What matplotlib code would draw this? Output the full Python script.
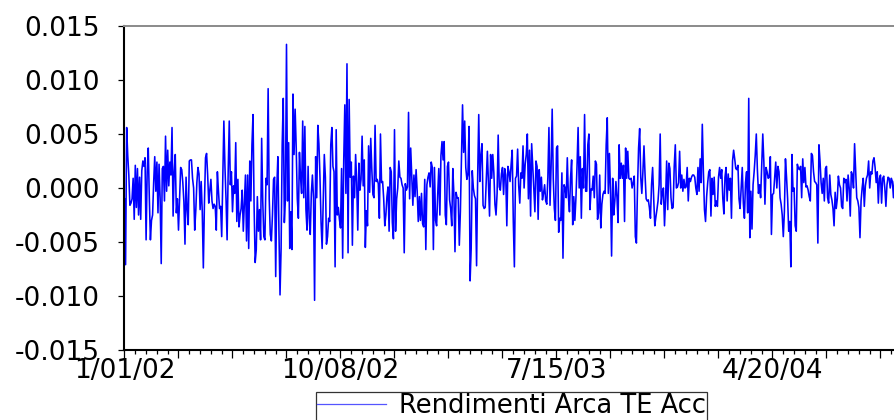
import matplotlib
matplotlib.use("Agg")
import matplotlib.pyplot as plt
from matplotlib.ticker import FixedLocator, MultipleLocator, FixedFormatter

plt.rcParams['font.family'] = ['DejaVu Sans']

series_name = "Rendimenti Arca TE Acc"

seg1 = [-0.0010, -0.0071, 0.0056, 0.0030, 0.0012, -0.0016, -0.0014, -0.0010, 0.0009, -0.0029,
        0.0021, -0.0018, 0.0018, -0.0025, 0.0010, -0.0029, 0.0016, 0.0025, 0.0020, 0.0028,
        -0.0048, 0.0015, 0.0037, -0.0010, -0.0048, -0.0030, -0.0025, 0.0005, 0.0029, -0.0003,
        0.0024, -0.0023, 0.0022, -0.0010, -0.0070, 0.0018, 0.0020, -0.0012, 0.0048, -0.0003,
        0.0035, 0.0002, 0.0024, 0.0012, 0.0056, -0.0026, 0.0015, 0.0031, -0.0023, -0.0010,
        -0.0039, -0.0011, 0.0019, 0.0017, 0.0005, -0.0013, -0.0052, 0.0010, -0.0020, -0.0034,
        0.0025, 0.0026]
seg2 = [0.0026, 0.0009, 0.0000, -0.0039, -0.0021, 0.0005, 0.0019, 0.0013, -0.0020, 0.0006,
        -0.0022, -0.0074, -0.0015, 0.0028, 0.0032, 0.0012, -0.0014, -0.0002, 0.0008, -0.0012,
        -0.0019, -0.0015, -0.0017, -0.0039, 0.0015, -0.0003, -0.0019, -0.0017, -0.0045, 0.0010,
        0.0062, 0.0020, -0.0010, -0.0048, 0.0015, 0.0062, 0.0003, 0.0015, -0.0022, 0.0002,
        -0.0005, 0.0042, -0.0031, 0.0008, -0.0036, -0.0025, -0.0019, -0.0002, -0.0040, -0.0015,
        0.0012, -0.0049, 0.0012, -0.0056, 0.0025, -0.0012, 0.0040, 0.0068, -0.0017, -0.0069,
        -0.0057, -0.0008, -0.0040, -0.0020]
seg3 = [-0.0048, 0.0046, -0.0012, -0.0045, -0.0048, 0.0009, 0.0003, 0.0092, -0.0010, -0.0043,
        -0.0049, -0.0025, 0.0008, 0.0010, -0.0082, 0.0000, 0.0029, -0.0040, -0.0099, -0.0056,
        0.0040, 0.0083, -0.0032, -0.0010, 0.0133, -0.0012, 0.0042, -0.0056, -0.0022, -0.0057,
        0.0087, 0.0031, 0.0073, 0.0037, -0.0010, -0.0028, 0.0033, 0.0010, -0.0005, 0.0062,
        -0.0009, 0.0057, -0.0020, -0.0039, 0.0020, -0.0028, -0.0043, -0.0005, 0.0012, -0.0009,
        -0.0104, 0.0029, -0.0009, 0.0058, 0.0041, 0.0010, -0.0032, -0.0056, -0.0012, 0.0031,
        0.0010, -0.0052, -0.0045, -0.0028, -0.0031, 0.0040]
seg4 = [0.0056, 0.0020, 0.0015, -0.0073, 0.0054, -0.0025, -0.0018, -0.0029, -0.0037, 0.0018,
        -0.0065, 0.0026, 0.0077, -0.0005, 0.0115, -0.0060, 0.0082, 0.0010, 0.0024, -0.0053,
        0.0011, -0.0009, 0.0031, 0.0005, -0.0039, 0.0023, -0.0002, 0.0008, 0.0048, 0.0002,
        0.0026, -0.0055, -0.0021, -0.0035, 0.0039, -0.0004, 0.0046, 0.0017, -0.0006, -0.0009,
        0.0058, 0.0006, 0.0008, 0.0004, -0.0028, 0.0050, 0.0005, 0.0006, -0.0010, -0.0035,
        -0.0025, -0.0008, 0.0001, -0.0040, 0.0019, 0.0015, -0.0032, -0.0047, 0.0054, -0.0040,
        -0.0010, 0.0000, 0.0025, 0.0010]
seg5 = [0.0009, 0.0003, 0.0000, -0.0060, 0.0004, -0.0002, 0.0001, 0.0070, -0.0010, 0.0037,
        0.0010, -0.0016, 0.0012, -0.0008, 0.0017, -0.0003, -0.0031, -0.0008, -0.0030, -0.0005,
        -0.0033, -0.0036, 0.0008, -0.0057, 0.0003, 0.0010, 0.0014, 0.0001, 0.0024, 0.0019,
        -0.0057, 0.0019, -0.0030, -0.0035, -0.0006, 0.0018, -0.0025, 0.0030, 0.0043, 0.0026,
        0.0043, -0.0025, -0.0034, 0.0020, 0.0024, -0.0011, -0.0019, -0.0035, 0.0018, -0.0006,
        -0.0059, -0.0004, -0.0009, -0.0009, -0.0053, -0.0022, 0.0030, 0.0077, 0.0033, 0.0062,
        0.0019, 0.0008, 0.0013, 0.0057, -0.0086, -0.0056]
seg6 = [0.0016, 0.0000, -0.0007, -0.0010, -0.0072, 0.0010, 0.0068, 0.0006, 0.0030, 0.0041,
        -0.0016, -0.0019, -0.0018, 0.0009, 0.0034, 0.0005, -0.0026, 0.0031, 0.0009, 0.0031,
        0.0014, -0.0015, -0.0025, -0.0005, 0.0049, 0.0001, -0.0002, 0.0013, 0.0019, -0.0006,
        0.0018, 0.0012, -0.0035, 0.0020, 0.0015, 0.0006, 0.0022, 0.0035, -0.0031, -0.0073,
        0.0009, 0.0011, 0.0036, 0.0002, -0.0014, 0.0014, 0.0009, 0.0039, 0.0000, 0.0022,
        0.0031, 0.0050, -0.0010, 0.0035, -0.0026, 0.0041, 0.0020, 0.0000, -0.0022, 0.0025,
        0.0020, -0.0029, 0.0017, -0.0003, 0.0010]
seg7 = [-0.0011, -0.0005, 0.0003, -0.0012, -0.0015, 0.0010, 0.0056, -0.0016, 0.0020, 0.0073,
        0.0009, -0.0019, -0.0030, 0.0037, 0.0039, -0.0041, -0.0028, -0.0030, 0.0014, -0.0065,
        0.0003, 0.0000, -0.0009, 0.0028, -0.0008, -0.0022, 0.0009, 0.0026, -0.0034, -0.0008,
        -0.0030, -0.0009, 0.0020, 0.0056, 0.0000, 0.0029, -0.0028, 0.0018, 0.0000, 0.0068,
        -0.0003, -0.0003, 0.0040, 0.0050, -0.0020, -0.0001, -0.0002, 0.0011, -0.0009, 0.0025,
        0.0022, -0.0029, -0.0023, 0.0012, -0.0037, -0.0015, -0.0006, -0.0003, -0.0005, 0.0040,
        0.0065, -0.0005, 0.0032, -0.0003, -0.0063]
seg8 = [0.0009, -0.0025, -0.0012, 0.0006, -0.0009, -0.0032, 0.0040, 0.0009, 0.0023, 0.0009,
        0.0021, -0.0031, 0.0037, 0.0009, 0.0034, 0.0009, 0.0008, 0.0009, 0.0000, 0.0005,
        0.0011, -0.0045, -0.0051, 0.0000, 0.0037, 0.0055, 0.0010, -0.0005, 0.0015, 0.0039,
        0.0012, -0.0010, -0.0012, -0.0011, -0.0018, -0.0028, 0.0003, 0.0019, -0.0010, -0.0035,
        -0.0027, -0.0020, -0.0012, 0.0003, 0.0050, -0.0015, -0.0004, 0.0000, -0.0035, -0.0010,
        0.0025, -0.0020, 0.0023, 0.0018, -0.0009, -0.0019, -0.0018, 0.0020, 0.0040, 0.0000,
        0.0001, 0.0005, 0.0034, 0.0000, 0.0012]
seg9 = [-0.0003, 0.0008, 0.0000, 0.0001, 0.0019, -0.0012, 0.0009, 0.0006, 0.0010, 0.0012,
        0.0012, 0.0010, 0.0000, -0.0006, 0.0019, -0.0003, 0.0027, 0.0005, 0.0059, 0.0015,
        -0.0020, -0.0031, -0.0008, 0.0005, 0.0015, 0.0017, -0.0026, 0.0009, -0.0006, 0.0010,
        -0.0017, -0.0012, -0.0017, 0.0010, 0.0019, 0.0009, 0.0017, -0.0010, -0.0024, 0.0010,
        0.0019, -0.0012, 0.0013, -0.0002, 0.0009, -0.0028, 0.0025, 0.0035, 0.0027, 0.0018,
        0.0017, 0.0021, -0.0010, -0.0019, 0.0000, 0.0019, -0.0014, -0.0028, 0.0005, 0.0015,
        -0.0023, 0.0083, -0.0046, -0.0003]
seg10 = [-0.0038, 0.0003, 0.0015, 0.0030, 0.0050, 0.0017, -0.0005, 0.0003, -0.0009, 0.0020,
         0.0050, 0.0024, -0.0015, 0.0019, 0.0015, 0.0009, 0.0010, 0.0029, -0.0043, -0.0006,
         -0.0005, 0.0010, 0.0024, 0.0000, 0.0020, 0.0015, -0.0009, -0.0015, -0.0025, -0.0045,
         -0.0022, 0.0027, 0.0010, -0.0010, -0.0040, -0.0031, -0.0073, 0.0031, -0.0003, 0.0000,
         -0.0035, -0.0040, 0.0022, 0.0018, 0.0017, 0.0020, -0.0009, 0.0027, 0.0005, 0.0019,
         0.0001, 0.0002, -0.0002, -0.0008, -0.0012, 0.0032, 0.0030, 0.0015, 0.0006, 0.0005,
         0.0003, -0.0051, 0.0040, 0.0025, 0.0005]
seg11 = [-0.0005, 0.0009, -0.0012, 0.0018, 0.0020, -0.0009, -0.0014, 0.0012, -0.0006, -0.0011,
         -0.0019, -0.0035, -0.0004, -0.0019, -0.0010, 0.0011, 0.0003, 0.0000, -0.0017, -0.0019,
         0.0009, 0.0005, 0.0008, -0.0012, 0.0012, 0.0000, -0.0026, 0.0015, 0.0012, 0.0000,
         0.0041, 0.0017, -0.0009, -0.0012, -0.0018, -0.0046, -0.0012, 0.0000, 0.0009, -0.0017,
         0.0002, 0.0009, 0.0012, 0.0025, 0.0000, 0.0015, 0.0013, 0.0025, 0.0028, 0.0019,
         0.0005, 0.0015, -0.0014, 0.0009, 0.0012, -0.0014, 0.0009, 0.0011, 0.0000, -0.0017,
         0.0003, 0.0010, 0.0009, 0.0000, 0.0009, 0.0006, -0.0009, 0.0006]

returns = seg1 + seg2 + seg3 + seg4 + seg5 + seg6 + seg7 + seg8 + seg9 + seg10 + seg11
obs = list(range(len(returns)))

date_labels = ["1/01/02", "10/08/02", "7/15/03", "4/20/04"]
date_label_obs = [0, 200, 400, 600]
y_ticks = [-0.015, -0.010, -0.005, 0.000, 0.005, 0.010, 0.015]
y_tick_labels = ["-0.015", "-0.010", "-0.005", "0.000", "0.005", "0.010", "0.015"]

W, H = 895, 420
fig = plt.figure(figsize=(W / 100, H / 100), dpi=100)
ax = fig.add_axes([124.5 / W, (H - 350) / H, 1 - 124.5 / W, (350 - 26) / H])

ax.plot(obs, returns, color="#0000FF", lw=1.15, label=series_name)

ax.set_xlim(0, (W - 124.5) / 1.08)
ax.set_ylim(-0.015, 0.015)

ax.set_yticks(y_ticks)
ax.set_yticklabels(y_tick_labels)

major_pos = list(range(0, 751, 50))
major_labels = [date_labels[date_label_obs.index(p)] if p in date_label_obs else "" for p in major_pos]
ax.xaxis.set_major_locator(FixedLocator(major_pos))
ax.xaxis.set_major_formatter(FixedFormatter(major_labels))
ax.xaxis.set_minor_locator(MultipleLocator(10))

ax.tick_params(axis="x", which="major", direction="out", length=5.5, width=0.9,
               labelsize=19, pad=0.5, colors="black")
ax.tick_params(axis="x", which="minor", direction="out", length=3, width=0.9)
ax.tick_params(axis="y", which="major", direction="out", length=4.5, width=0.9,
               labelsize=19, pad=13)
for lbl in ax.get_yticklabels():
    lbl.set_verticalalignment("center_baseline")

for s in ["left", "bottom"]:
    ax.spines[s].set_color("black")
    ax.spines[s].set_linewidth(1.5)
ax.spines["top"].set_color("#8a8a8a")
ax.spines["top"].set_linewidth(1.4)
ax.spines["right"].set_visible(False)

leg = fig.legend(loc="upper center", bbox_to_anchor=(511.5 / W, 1 - 392 / H),
                 fontsize=18.5, frameon=True, fancybox=False, edgecolor="black",
                 handlelength=2.7, handletextpad=0.5, borderpad=0.05, borderaxespad=0)
leg.get_frame().set_linewidth(0.9)
for line in leg.get_lines():
    line.set_linewidth(0.9)
    line.set_color("#5555ff")

fig.savefig("out.png", dpi=100)
